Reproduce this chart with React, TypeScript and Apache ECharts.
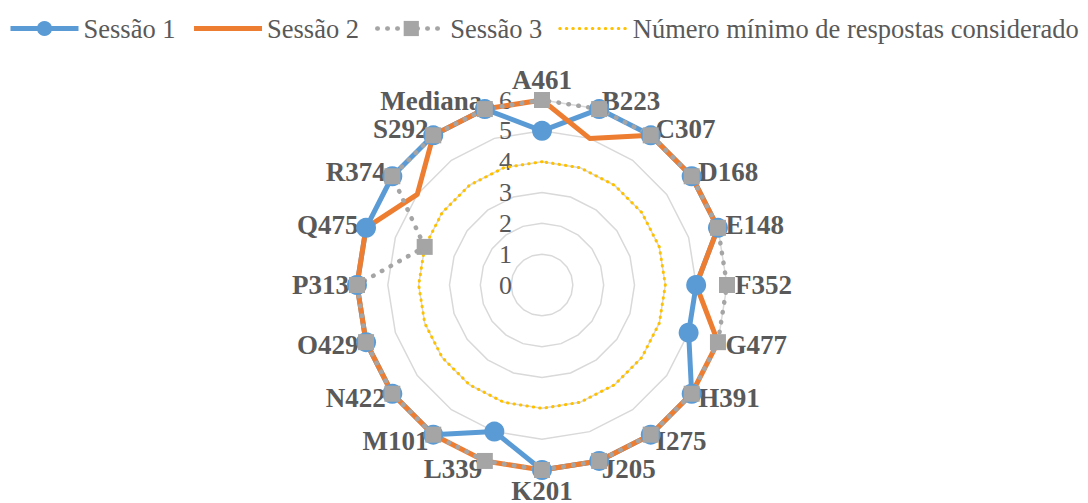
import React, { useEffect, useRef } from "react";
import * as echarts from "echarts";

// Radar indicators, clockwise from the top
const indicators = [
  "A461", "B223", "C307", "D168", "E148", "F352", "G477", "H391", "I275", "J205",
  "K201", "L339", "M101", "N422", "O429", "P313", "Q475", "R374", "S292", "Mediana",
];

const sessao1 = [5, 6, 6, 6, 6, 5, 5, 6, 6, 6, 6, 5, 6, 6, 6, 6, 6, 6, 6, 6];
const sessao2 = [6, 5, 6, 6, 6, 5, 6, 6, 6, 6, 6, 6, 6, 6, 6, 6, 6, 5, 6, 6];
const sessao3 = [6, 6, 6, 6, 6, 6, 6, 6, 6, 6, 6, 6, 6, 6, 6, 6, 4, 6, 6, 6];
const minimo = [4, 4, 4, 4, 4, 4, 4, 4, 4, 4, 4, 4, 4, 4, 4, 4, 4, 4, 4, 4];

const seriesNames = ["Sessão 1", "Sessão 2", "Sessão 3", "Número mínimo de respostas considerado"];
const scaleMax = 6;

const BLUE = "#5B9BD5";
const ORANGE = "#ED7D31";
const GREY = "#A5A5A5";
const YELLOW = "#FFC000";
const TEXT = "#595959";
const FONT = "Liberation Serif";

const CENTER = [542, 285];
const RADIUS = 185;

// ECharts lays radar indicators out counter-clockwise; keep the first one
// on top and reverse the rest so the order reads clockwise.
const clockwise = <T,>(arr: T[]): T[] => [arr[0], ...arr.slice(1).reverse()];

const styles = [
  {
    symbol: "circle",
    symbolSize: 20,
    lineStyle: { color: BLUE, width: 5 },
    itemStyle: { color: BLUE },
  },
  {
    symbol: "none",
    symbolSize: 0,
    lineStyle: { color: ORANGE, width: 5 },
    itemStyle: { color: ORANGE },
  },
  {
    symbol: "rect",
    symbolSize: 16,
    lineStyle: { color: GREY, width: 4.5, type: [0.5, 9.5], cap: "round" },
    itemStyle: { color: GREY },
  },
  {
    symbol: "none",
    symbolSize: 0,
    lineStyle: { color: YELLOW, width: 3, type: [0.5, 6], cap: "round" },
    itemStyle: { color: YELLOW },
  },
];

export default function App() {
  const ref = useRef<HTMLDivElement>(null);

  useEffect(() => {
    if (!ref.current) return;
    const chart = echarts.init(ref.current, undefined, { renderer: "svg" });
    const values = [sessao1, sessao2, sessao3, minimo];

    // Empty line series provide line+symbol legend icons
    const legendSeries = seriesNames.map((name, i) => ({
      type: "line",
      name,
      xAxisIndex: 0,
      yAxisIndex: 0,
      data: [],
      symbol: styles[i].symbol === "none" ? "circle" : styles[i].symbol,
      symbolSize: styles[i].symbolSize,
      lineStyle: styles[i].lineStyle,
      itemStyle: styles[i].itemStyle,
      silent: true,
    }));

    const radarSeries = seriesNames.map((name, i) => ({
      type: "radar",
      name,
      radarIndex: 0,
      symbol: styles[i].symbol,
      symbolSize: styles[i].symbolSize,
      lineStyle: styles[i].lineStyle,
      itemStyle: styles[i].itemStyle,
      data: [{ value: clockwise(values[i]), name }],
    }));

    chart.setOption({
      animation: false,
      backgroundColor: "#ffffff",
      textStyle: { fontFamily: FONT },
      legend: {
        left: 3,
        top: 10,
        itemWidth: 68,
        itemHeight: 19,
        itemGap: 16,
        textStyle: { color: TEXT, fontSize: 26.5, fontFamily: FONT },
        data: seriesNames.map((name, i) => ({
          name,
          lineStyle: { width: styles[i].lineStyle.width },
          itemStyle: styles[i].symbol === "none" ? { opacity: 0 } : {},
        })),
      },
      grid: { left: 0, top: 0, width: 1, height: 1, show: false },
      xAxis: { type: "value", show: false },
      yAxis: { type: "value", show: false },
      polar: { center: CENTER, radius: RADIUS },
      angleAxis: { show: false, startAngle: 90, min: 0, max: 360 },
      radiusAxis: {
        min: 0,
        max: scaleMax,
        interval: 1,
        axisLine: { show: false },
        axisTick: { show: false },
        splitLine: { show: false },
        axisLabel: {
          color: TEXT,
          fontSize: 26,
          fontFamily: FONT,
          margin: 30,
        },
        z: 0,
      },
      radar: {
        center: CENTER,
        radius: RADIUS,
        startAngle: 90,
        shape: "polygon",
        splitNumber: scaleMax,
        indicator: clockwise(indicators).map((name) => ({ name, min: 0, max: scaleMax })),
        nameGap: 8,
        axisName: {
          color: TEXT,
          fontSize: 27,
          lineHeight: 25,
          fontWeight: "bold",
          fontFamily: FONT,
        },
        axisLine: { show: false },
        axisTick: { show: false },
        splitArea: { show: false },
        splitLine: { lineStyle: { color: "#D9D9D9", width: 1.5 } },
      },
      series: [...legendSeries, ...radarSeries],
    });

    return () => chart.dispose();
  }, []);

  return (
    <div
      ref={ref}
      style={{ position: "fixed", left: 0, top: 0, width: 1088, height: 503, background: "#fff" }}
    />
  );
}
